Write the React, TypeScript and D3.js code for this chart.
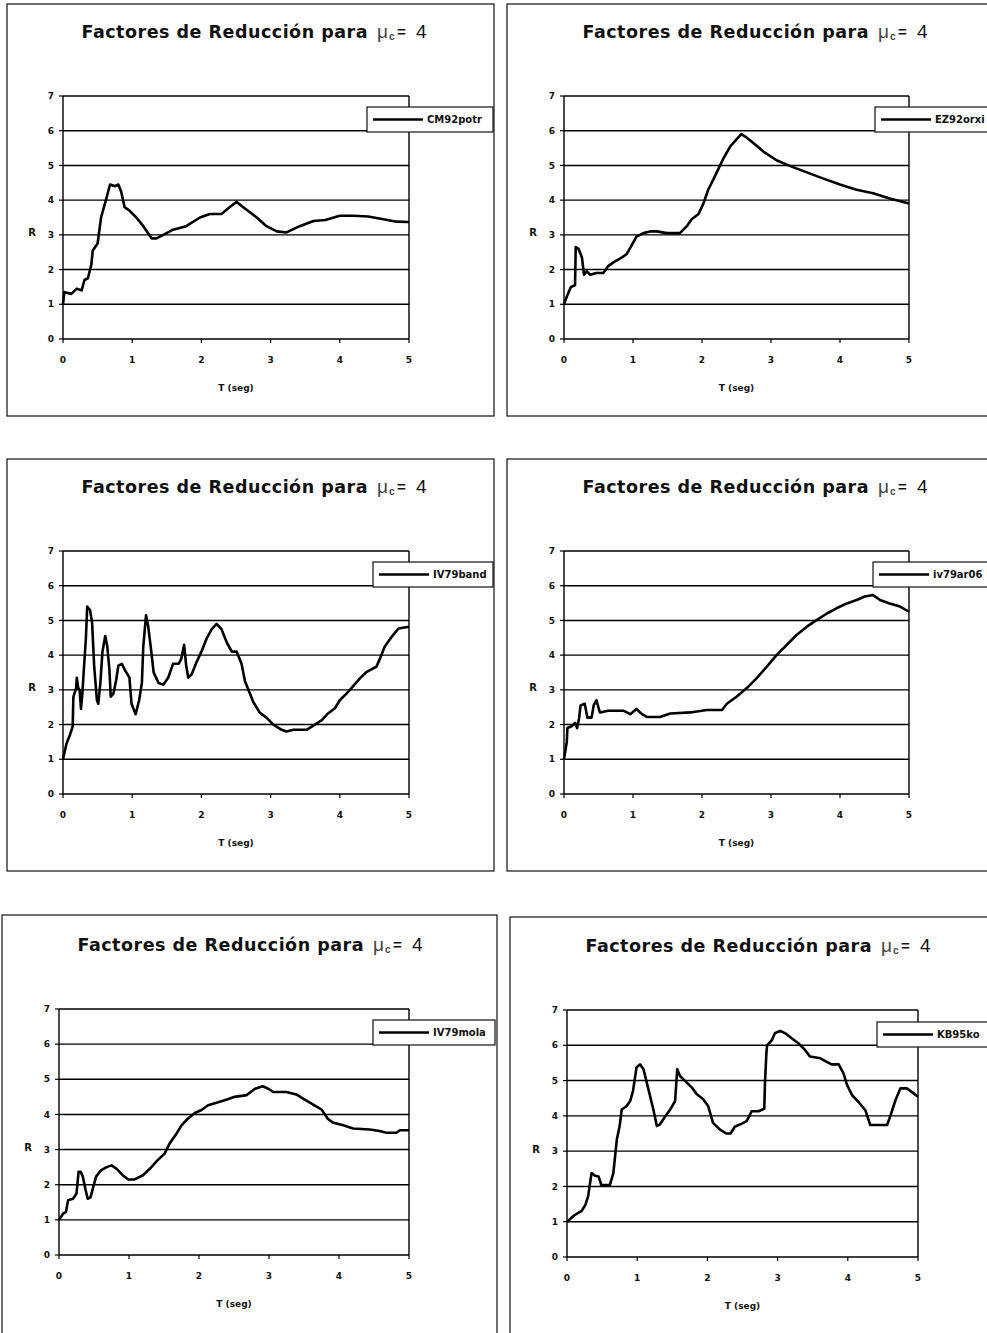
import React from "react";
import * as d3 from "d3";

// ---------- data ----------
const xTicks = [0, 1, 2, 3, 4, 5];
const yTicks = [0, 1, 2, 3, 4, 5, 6, 7];
const gridValues = [1, 2, 3, 4, 5, 6, 7];
const titleMain = "Factores de Reducción para";
const xAxisTitle = "T (seg)";
const yAxisTitle = "R";

const cm92potrT = [0, 0.02, 0.12, 0.2, 0.27, 0.31, 0.36, 0.41, 0.43, 0.5, 0.55, 0.62, 0.68, 0.75, 0.8, 0.84, 0.89, 0.96, 1.06, 1.16, 1.28, 1.35, 1.45, 1.59, 1.78, 1.98, 2.12, 2.29, 2.41, 2.51, 2.6, 2.8, 2.94, 3.09, 3.23, 3.42, 3.62, 3.79, 4.0, 4.2, 4.41, 4.63, 4.82, 5.0];
const cm92potrR = [1.0, 1.35, 1.3, 1.45, 1.4, 1.7, 1.75, 2.15, 2.55, 2.75, 3.5, 4.0, 4.45, 4.4, 4.45, 4.25, 3.8, 3.7, 3.5, 3.25, 2.9, 2.9, 3.0, 3.15, 3.25, 3.5, 3.6, 3.6, 3.8, 3.95, 3.8, 3.5, 3.25, 3.1, 3.07, 3.25, 3.4, 3.43, 3.55, 3.55, 3.53, 3.45, 3.38, 3.37];

const ez92orxiT = [0, 0.05, 0.1, 0.16, 0.17, 0.21, 0.26, 0.29, 0.33, 0.38, 0.47, 0.57, 0.64, 0.71, 0.84, 0.91, 0.98, 1.05, 1.15, 1.25, 1.34, 1.49, 1.68, 1.78, 1.85, 1.95, 2.02, 2.09, 2.19, 2.31, 2.41, 2.5, 2.57, 2.65, 2.74, 2.89, 3.08, 3.28, 3.52, 3.76, 4.0, 4.24, 4.48, 4.72, 5.0];
const ez92orxiR = [1.0, 1.27, 1.5, 1.55, 2.65, 2.6, 2.35, 1.85, 1.95, 1.85, 1.9, 1.9, 2.1, 2.2, 2.35, 2.45, 2.7, 2.95, 3.05, 3.1, 3.1, 3.05, 3.05, 3.25, 3.45, 3.6, 3.9, 4.3, 4.7, 5.2, 5.55, 5.75, 5.9, 5.8, 5.65, 5.4, 5.15, 4.98, 4.8, 4.62, 4.45, 4.3, 4.2, 4.05, 3.9];

const iv79bandT = [0, 0.05, 0.1, 0.14, 0.15, 0.19, 0.2, 0.22, 0.24, 0.26, 0.28, 0.3, 0.33, 0.35, 0.39, 0.42, 0.45, 0.49, 0.51, 0.54, 0.57, 0.61, 0.64, 0.67, 0.69, 0.73, 0.77, 0.8, 0.85, 0.9, 0.96, 0.99, 1.05, 1.1, 1.14, 1.16, 1.2, 1.23, 1.27, 1.31, 1.38, 1.45, 1.52, 1.59, 1.67, 1.71, 1.75, 1.78, 1.81, 1.86, 1.93, 2.0, 2.08, 2.15, 2.22, 2.29, 2.37, 2.44, 2.51, 2.58, 2.63, 2.75, 2.84, 2.94, 3.04, 3.16, 3.23, 3.33, 3.52, 3.64, 3.74, 3.83, 3.93, 4.0, 4.1, 4.19, 4.29, 4.39, 4.53, 4.58, 4.65, 4.75, 4.85, 5.0];
const iv79bandR = [1.0, 1.45, 1.7, 1.95, 2.8, 3.05, 3.35, 3.05, 3.0, 2.45, 2.9, 3.55, 4.45, 5.4, 5.3, 4.95, 3.7, 2.7, 2.6, 3.2, 4.1, 4.55, 4.25, 3.6, 2.8, 2.9, 3.3, 3.7, 3.75, 3.55, 3.35, 2.6, 2.3, 2.7, 3.2, 4.25, 5.15, 4.85, 4.2, 3.5, 3.2, 3.15, 3.35, 3.75, 3.75, 3.9, 4.3, 3.7, 3.35, 3.45, 3.8, 4.1, 4.5, 4.75, 4.9, 4.75, 4.35, 4.1, 4.1, 3.75, 3.25, 2.65, 2.35, 2.2, 2.0, 1.85, 1.8, 1.85, 1.85, 2.0, 2.13, 2.32, 2.47, 2.7, 2.9, 3.1, 3.33, 3.52, 3.67, 3.9, 4.25, 4.53, 4.77, 4.82];

const iv79ar06T = [0, 0.04, 0.05, 0.11, 0.16, 0.19, 0.22, 0.24, 0.3, 0.34, 0.4, 0.43, 0.47, 0.52, 0.64, 0.86, 0.96, 1.05, 1.13, 1.2, 1.39, 1.54, 1.83, 2.07, 2.29, 2.36, 2.5, 2.65, 2.79, 2.94, 3.08, 3.23, 3.37, 3.52, 3.66, 3.81, 3.95, 4.1, 4.24, 4.36, 4.48, 4.58, 4.72, 4.87, 5.0];
const iv79ar06R = [1.0, 1.5, 1.9, 1.95, 2.05, 1.9, 2.2, 2.55, 2.6, 2.2, 2.2, 2.55, 2.7, 2.35, 2.4, 2.4, 2.3, 2.45, 2.3, 2.22, 2.22, 2.32, 2.35, 2.42, 2.42, 2.6, 2.8, 3.05, 3.33, 3.67, 4.0, 4.3, 4.58, 4.82, 5.01, 5.2, 5.35, 5.49, 5.59, 5.69, 5.73, 5.59, 5.49, 5.4, 5.25];

const iv79molaT = [0, 0.06, 0.1, 0.13, 0.2, 0.25, 0.28, 0.31, 0.34, 0.38, 0.41, 0.45, 0.49, 0.53, 0.6, 0.68, 0.75, 0.82, 0.91, 0.99, 1.08, 1.2, 1.3, 1.41, 1.51, 1.58, 1.68, 1.75, 1.84, 1.94, 2.03, 2.13, 2.25, 2.39, 2.51, 2.68, 2.8, 2.91, 2.99, 3.06, 3.25, 3.39, 3.51, 3.65, 3.75, 3.84, 3.91, 4.06, 4.2, 4.44, 4.58, 4.68, 4.82, 4.87, 5.0];
const iv79molaR = [1.0, 1.18, 1.23, 1.56, 1.6, 1.75, 2.37, 2.37, 2.23, 1.85, 1.6, 1.64, 1.94, 2.23, 2.41, 2.5, 2.55, 2.46, 2.27, 2.15, 2.15, 2.27, 2.46, 2.7, 2.89, 3.17, 3.46, 3.69, 3.88, 4.04, 4.12, 4.26, 4.33, 4.42, 4.5, 4.55, 4.73, 4.8, 4.73, 4.64, 4.64, 4.57, 4.42, 4.26, 4.14, 3.88, 3.77, 3.69, 3.6, 3.57, 3.53, 3.48, 3.48, 3.55, 3.55];

const kb95koT = [0, 0.11, 0.21, 0.26, 0.3, 0.35, 0.4, 0.45, 0.49, 0.61, 0.66, 0.71, 0.75, 0.78, 0.85, 0.9, 0.94, 0.99, 1.04, 1.09, 1.16, 1.23, 1.28, 1.32, 1.4, 1.47, 1.54, 1.57, 1.61, 1.68, 1.78, 1.85, 1.94, 2.01, 2.08, 2.18, 2.27, 2.33, 2.39, 2.49, 2.56, 2.63, 2.73, 2.81, 2.82, 2.84, 2.85, 2.92, 2.96, 3.04, 3.11, 3.2, 3.3, 3.39, 3.46, 3.61, 3.7, 3.77, 3.87, 3.94, 3.99, 4.06, 4.15, 4.25, 4.32, 4.44, 4.56, 4.61, 4.68, 4.75, 4.84, 4.91, 5.0];
const kb95koR = [1.0, 1.19, 1.31, 1.47, 1.71, 2.38, 2.3, 2.28, 2.04, 2.04, 2.38, 3.33, 3.71, 4.18, 4.28, 4.42, 4.7, 5.37, 5.46, 5.32, 4.75, 4.18, 3.71, 3.75, 3.99, 4.18, 4.42, 5.32, 5.13, 4.99, 4.8, 4.61, 4.47, 4.28, 3.8, 3.61, 3.5, 3.5, 3.69, 3.78, 3.85, 4.13, 4.13, 4.2, 4.92, 5.77, 6.0, 6.15, 6.34, 6.41, 6.34, 6.2, 6.05, 5.87, 5.68, 5.63, 5.53, 5.46, 5.46, 5.2, 4.87, 4.59, 4.4, 4.16, 3.74, 3.74, 3.74, 4.02, 4.45, 4.78, 4.78, 4.68, 4.54];

const seriesNames = ["CM92potr", "EZ92orxi", "IV79band", "iv79ar06", "IV79mola", "KB95ko"];
const seriesT = [cm92potrT, ez92orxiT, iv79bandT, iv79ar06T, iv79molaT, kb95koT];
const seriesR = [cm92potrR, ez92orxiR, iv79bandR, iv79ar06R, iv79molaR, kb95koR];

// ---------- layout (image pixel geometry) ----------
const layouts = [
  { frame: [7, 4, 487, 412], plot: [63, 96, 346, 243], legend: [367, 107, 126] },
  { frame: [507, 4, 500, 412], plot: [564, 96, 345, 243], legend: [875, 107, 130] },
  { frame: [7, 459, 487, 412], plot: [63, 551, 346, 243], legend: [373, 562, 120] },
  { frame: [507, 459, 500, 412], plot: [564, 551, 345, 243], legend: [873, 562, 130] },
  { frame: [2, 915, 495, 440], plot: [59, 1009, 350, 246], legend: [373, 1020, 122] },
  { frame: [510, 917, 500, 440], plot: [567, 1010, 351, 247], legend: [877, 1022, 130] },
];

const FONT = "'DejaVu Sans', Verdana, sans-serif";
const FONT2 = "'Liberation Sans', Arial, sans-serif";
const SMALL = "'DejaVu Sans', Verdana, sans-serif";

function Panel({ idx }: { idx: number }) {
  const L = layouts[idx];
  const [fx, fy, fw, fh] = L.frame;
  const [px, py, pw, ph] = L.plot;
  const [lx, ly, lw] = L.legend;
  const x = d3.scaleLinear().domain([0, 5]).range([px, px + pw]);
  const y = d3.scaleLinear().domain([0, 7]).range([py + ph, py]);
  const T = seriesT[idx];
  const R = seriesR[idx];
  const pts: [number, number][] = T.map((t, i) => [t, R[i]]);
  const line = d3
    .line<[number, number]>()
    .x((d) => x(d[0]))
    .y((d) => y(d[1]))
    .curve(d3.curveLinear);
  const tb = py - 58;
  return (
    <g>
      <rect x={fx} y={fy} width={fw} height={fh} fill="#fff" stroke="#111" strokeWidth={1.2} />
      {/* title */}
      <text x={px + 18.5} y={tb} fontFamily={FONT} fontWeight="bold" fontSize={17.5} textLength={286} lengthAdjust="spacing" fill="#111">
        {titleMain}
      </text>
      <text x={px + 314} y={tb} fontFamily={FONT2} fontSize={19} fill="#444">μ</text>
      <text x={px + 326} y={tb + 2} fontFamily={FONT2} fontWeight="bold" fontSize={10} fill="#444">c</text>
      <text x={px + 334} y={tb - 1} fontFamily={FONT2} fontWeight="bold" fontSize={15} fill="#111">=</text>
      <text x={px + 353} y={tb} fontFamily={FONT2} fontSize={19} fill="#111">4</text>
      {/* grid lines */}
      {gridValues.map((v) => (
        <line key={v} x1={px} x2={px + pw} y1={y(v)} y2={y(v)} stroke="#000" strokeWidth={1.4} />
      ))}
      <line x1={px + pw} x2={px + pw} y1={py} y2={py + ph} stroke="#000" strokeWidth={1.4} />
      {/* axes */}
      <line x1={px} x2={px} y1={py} y2={py + ph} stroke="#000" strokeWidth={1.4} />
      <line x1={px} x2={px + pw} y1={py + ph} y2={py + ph} stroke="#000" strokeWidth={1.4} />
      {yTicks.map((v) => (
        <g key={"y" + v}>
          <line x1={px - 4} x2={px} y1={y(v)} y2={y(v)} stroke="#000" strokeWidth={1.2} />
          <text x={px - 9} y={y(v)} dy="0.35em" textAnchor="end" fontFamily={SMALL} fontWeight="bold" fontSize={9} fill="#111">
            {v}
          </text>
        </g>
      ))}
      {xTicks.map((v) => (
        <g key={"x" + v}>
          <line x1={x(v)} x2={x(v)} y1={py + ph} y2={py + ph + 4} stroke="#000" strokeWidth={1.2} />
          <text x={x(v)} y={py + ph + 21} dy="0.35em" textAnchor="middle" fontFamily={SMALL} fontWeight="bold" fontSize={9} fill="#111">
            {v}
          </text>
        </g>
      ))}
      <text x={px + pw / 2} y={py + ph + 49} dy="0.35em" textAnchor="middle" fontFamily={SMALL} fontWeight="bold" fontSize={9} fill="#111">
        {xAxisTitle}
      </text>
      <text x={px - 31} y={y(3) - 2} dy="0.35em" textAnchor="middle" fontFamily={SMALL} fontWeight="bold" fontSize={10} fill="#111">
        {yAxisTitle}
      </text>
      {/* series */}
      <path d={line(pts) || ""} fill="none" stroke="#000" strokeWidth={2.6} strokeLinejoin="round" />
      {/* legend */}
      <rect x={lx} y={ly} width={lw} height={25} fill="#fff" stroke="#111" strokeWidth={1.2} />
      <line x1={lx + 6} x2={lx + 56} y1={ly + 12.5} y2={ly + 12.5} stroke="#000" strokeWidth={2.6} />
      <text x={lx + 60} y={ly + 12.5} dy="0.35em" fontFamily={SMALL} fontWeight="bold" fontSize={10} fill="#111">
        {seriesNames[idx]}
      </text>
    </g>
  );
}

export default function App() {
  return (
    <svg width={987} height={1333} style={{ position: "absolute", left: 0, top: 0, background: "#fff" }}>
      <rect x={0} y={0} width={987} height={1333} fill="#fff" />
      {layouts.map((_, i) => (
        <Panel key={i} idx={i} />
      ))}
    </svg>
  );
}
